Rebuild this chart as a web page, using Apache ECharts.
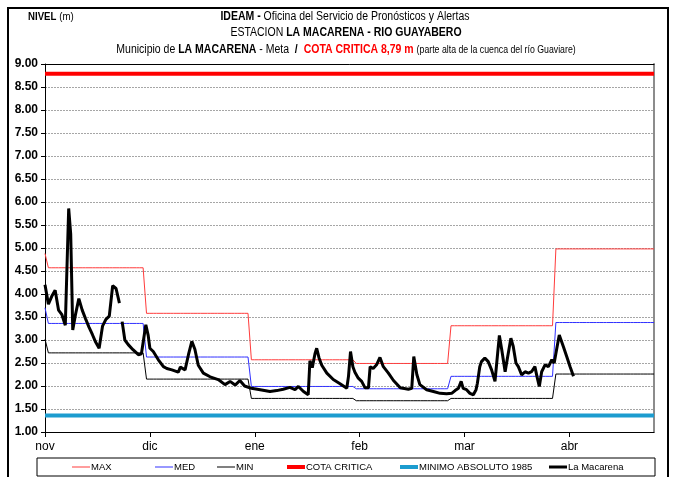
<!DOCTYPE html>
<html>
<head>
<meta charset="utf-8">
<script src="https://cdn.jsdelivr.net/npm/echarts@6/dist/echarts.min.js"></script>
<style>
  html, body { margin: 0; padding: 0; background: #ffffff; }
  #chart { width: 676px; height: 477px; }
</style>
</head>
<body>
<div id="chart"></div>
<script>
// Season axis: days counted from 1 November (0) to 30 April (180)
const seasonLastDay = 180;
const monthLabels = ['nov', 'dic', 'ene', 'feb', 'mar', 'abr'];
const labelDays = [0, 31, 62, 93, 124, 155];
const monthStartDays = [0, 30, 61, 92, 120, 151];

// Historical monthly levels (m); the first value is the level on 1 November
const maxFirstDay = 4.88;
const medFirstDay = 3.70;
const minFirstDay = 3.02;
const maxMonthly = [4.57, 3.58, 2.57, 2.49, 3.31, 4.98];
const medMonthly = [3.36, 2.63, 1.99, 1.94, 2.21, 3.38];
const minMonthly = [2.72, 2.15, 1.73, 1.68, 1.73, 2.26];

// Reference levels (m)
const cotaCritica = 8.79;
const minimoAbsoluto1985 = 1.36;

// Observed level at La Macarena: reading time (days since 1 Nov) and level (m)
const macarenaDay = [
  0, 1, 2, 3, 4, 5, 6, 7, 7.6, 8.2, 9, 10, 11, 12, 13, 14, 15, 16, 17, 18, 19, 20, 21, 22,
  22.4,
  22.8, 23.6, 24.6, 26, 27.6, 28.5, 29.8, 30.5, 31, 32, 33.5, 35, 36, 37.5, 39.4, 40, 41.4,
  42.4, 43.4, 44.3, 45.3, 46.8, 48.8, 51.2, 53.2, 54.7, 56.2, 57.6, 59, 61, 63.6, 66.5, 68.5,
  70.4, 72.4, 73.9, 74.9, 76.4, 77.8, 78.3, 79, 79.8, 80.3, 81, 81.8, 83.3, 85.2, 87.2, 89.2,
  89.7, 90.3, 91, 91.6, 92.6, 93.6, 94.6, 95.6, 96.1, 97, 98, 99, 100, 101.5, 103, 105, 107.4,
  108.4, 109, 109.9, 110.8, 112.8, 114.8, 116.8, 118.7, 120.2, 121.2, 122.2, 123, 123.6, 124.6,
  125.6, 126.6, 127.4, 127.8, 128.5, 129, 130, 131, 132, 133, 133.8, 134.3, 135, 136, 136.6,
  137.7, 138.4, 139.2, 139.9, 140.9, 141.9, 142.9, 143.8, 144.8, 145.4, 146.1, 146.8, 147.8,
  148.8, 149.8, 150.5, 151.2, 152, 153.2, 154.2, 155.2, 156.2
];
const macarenaLevel = [
  4.20, 3.78, 3.95, 4.08, 3.65, 3.55, 3.32, 5.86, 5.30, 3.22, 3.55, 3.90, 3.65, 3.46, 3.28, 3.12, 2.95, 2.82, 3.30, 3.45, 3.52, 4.18, 4.12, 3.80,
  null,
  3.40, 3.00, 2.90, 2.79, 2.68, 2.70, 3.33, 3.10, 2.82, 2.75, 2.57, 2.42, 2.38, 2.35, 2.30, 2.41, 2.35,
  2.68, 2.97, 2.80, 2.45, 2.28, 2.20, 2.14, 2.03, 2.10, 2.02, 2.12, 2.00, 1.95, 1.92, 1.88, 1.90,
  1.93, 1.97, 1.92, 1.99, 1.88, 1.81, 2.55, 2.40, 2.70, 2.82, 2.61, 2.45, 2.28, 2.14, 2.05, 1.95,
  2.21, 2.75, 2.42, 2.30, 2.17, 2.10, 1.96, 1.96, 2.42, 2.38, 2.46, 2.62, 2.42, 2.28, 2.12, 1.96, 1.93,
  1.95, 2.64, 2.25, 2.03, 1.92, 1.88, 1.84, 1.83, 1.84, 1.90, 1.95, 2.10, 1.95, 1.92,
  1.84, 1.81, 1.92, 2.06, 2.42, 2.53, 2.61, 2.53, 2.35, 2.10, 2.72, 3.10, 2.79, 2.31, 2.57,
  3.04, 2.86, 2.50, 2.42, 2.24, 2.31, 2.28, 2.31, 2.42, 2.21, 1.99, 2.31, 2.46,
  2.42, 2.57, 2.50, 2.79, 3.11, 2.86, 2.64, 2.42, 2.21
];

const sans = "'Liberation Sans', Arial, sans-serif";
// Condensed look for the heading lines
const headingScale = 0.875;

// Daily step series from the monthly values
function dailySteps(firstDay, monthly) {
  const out = [];
  for (let d = 0; d <= seasonLastDay; d++) {
    let m = 0;
    for (let i = 0; i < monthStartDays.length; i++) if (monthStartDays[i] <= d) m = i;
    out.push([d, d === 0 ? firstDay : monthly[m]]);
  }
  return out;
}
function constantLine(v) {
  return [[0, v], [seasonLastDay, v]];
}
const macarenaData = macarenaDay.map((d, i) => [d, macarenaLevel[i] === null ? '-' : macarenaLevel[i]]);

const lineSeries = (name, data, color, width) => ({
  name, type: 'line', data, symbol: 'none', showSymbol: false,
  xAxisIndex: 0, yAxisIndex: 0,
  lineStyle: { color, width }, itemStyle: { color },
  connectNulls: false, silent: true
});

// One legend entry per name, spread along the boxed legend row
const legendNames = ['MAX', 'MED', 'MIN', 'COTA CRITICA', 'MINIMO ABSOLUTO 1985', 'La Macarena'];
const legendLefts = [72, 155, 217, 287, 400, 549];
const legendStroke = [1, 1, 1, 4, 4, 3];

function heading(x, y, text, rich, align) {
  return {
    type: 'text', silent: true, x, y, scaleX: headingScale,
    style: { x: 0, y: 0, verticalAlign: 'middle', align: align || 'center', text, rich }
  };
}
const txt = (size, weight, color) => ({ fontFamily: sans, fontSize: size, fontWeight: weight || 'normal', fill: color || '#000' });

const chart = echarts.init(document.getElementById('chart'), null, { renderer: 'canvas' });
chart.setOption({
  animation: false,
  backgroundColor: '#ffffff',
  grid: { left: 45, right: 22, top: 64, bottom: 45, containLabel: false },
  xAxis: [
    {
      type: 'value', min: 0, max: seasonLastDay, position: 'bottom',
      axisLine: { show: true, onZero: false, lineStyle: { color: '#000', width: 1 } },
      axisTick: { show: true, customValues: labelDays, length: 5, inside: false, lineStyle: { color: '#000' } },
      axisLabel: {
        show: true, customValues: labelDays, margin: 9,
        color: '#000', fontFamily: sans, fontSize: 12,
        formatter: v => monthLabels[labelDays.indexOf(v)] || ''
      },
      splitLine: { show: false }
    },
    {
      type: 'value', min: 0, max: seasonLastDay, position: 'top',
      axisLine: { show: true, onZero: false, lineStyle: { color: '#000', width: 1 } },
      axisTick: { show: false }, axisLabel: { show: false }, splitLine: { show: false }
    }
  ],
  yAxis: [
    {
      type: 'value', min: 1, max: 9, interval: 0.5, position: 'left',
      axisLine: { show: true, onZero: false, lineStyle: { color: '#000', width: 1 } },
      axisTick: { show: true, length: 4, inside: false, lineStyle: { color: '#000' } },
      axisLabel: {
        show: true, margin: 7, color: '#000', fontFamily: sans, fontSize: 12, fontWeight: 'bold',
        formatter: v => v.toFixed(2)
      },
      splitLine: { show: true, lineStyle: { color: '#a6a6a6', width: 1, type: [2, 1] } }
    },
    {
      type: 'value', min: 1, max: 9, position: 'right',
      axisLine: { show: true, onZero: false, lineStyle: { color: '#8c8c8c', width: 2 } },
      axisTick: { show: false }, axisLabel: { show: false }, splitLine: { show: false }
    }
  ],
  legend: legendNames.map((name, i) => ({
    data: [name], left: legendLefts[i], top: 462, padding: 0,
    icon: 'rect', itemWidth: 18, itemHeight: legendStroke[i], itemGap: 0, selectedMode: false,
    textStyle: { fontFamily: sans, fontSize: 9.5, color: '#000', padding: [0, 0, 0, -4], lineHeight: 10,
                 verticalAlign: 'middle' }
  })),
  series: [
    lineSeries('MAX', dailySteps(maxFirstDay, maxMonthly), '#ff3b3b', 1),
    lineSeries('MED', dailySteps(medFirstDay, medMonthly), '#3030ff', 1),
    lineSeries('MIN', dailySteps(minFirstDay, minMonthly), '#000000', 1),
    lineSeries('COTA CRITICA', constantLine(cotaCritica), '#ff0000', 4),
    lineSeries('MINIMO ABSOLUTO 1985', constantLine(minimoAbsoluto1985), '#1c9ccf', 4),
    lineSeries('La Macarena', macarenaData, '#000000', 3)
  ],
  graphic: [
    { type: 'rect', silent: true, z: 0, shape: { x: 8, y: 8, width: 660, height: 490 },
      style: { fill: 'none', stroke: '#000', lineWidth: 2 } },
    { type: 'rect', silent: true, shape: { x: 37, y: 458, width: 618, height: 18 },
      style: { fill: 'none', stroke: '#000', lineWidth: 1 } },
    heading(28, 17, '{b|NIVEL} {n|(m)}', { b: txt(11, 'bold'), n: txt(11) }, 'left'),
    heading(345, 17, '{b|IDEAM -} {n|Oficina del Servicio de Pronósticos y Alertas}',
            { b: txt(12, 'bold'), n: txt(12) }),
    heading(346, 33, '{n|ESTACION }{b|LA MACARENA - RIO GUAYABERO}',
            { b: txt(12, 'bold'), n: txt(12) }),
    heading(346, 50,
            '{n|Municipio de }{b|LA MACARENA}{n| - Meta  }{b|/}{n|  }{r|COTA CRITICA 8,79 m}{n| }{s|(parte alta de la cuenca del río Guaviare)}',
            { b: txt(12, 'bold'), n: txt(12), r: txt(12, 'bold', '#ff0000'), s: txt(10) })
  ]
});
</script>
</body>
</html>
